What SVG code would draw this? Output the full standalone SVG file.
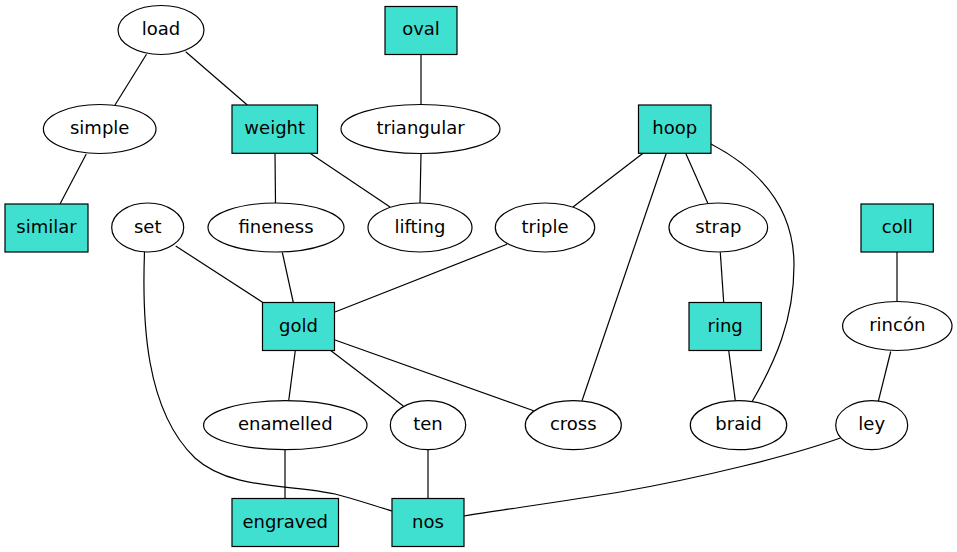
<svg xmlns="http://www.w3.org/2000/svg" width="957" height="552" viewBox="0 0 957 552">
<style>
.n ellipse{fill:#fff;stroke:#000;stroke-width:1.2}
.n rect{fill:#40e0d0;stroke:#000;stroke-width:1.2}
.n text{font-family:"DejaVu Sans",sans-serif;font-size:18px;text-anchor:middle;fill:#000}
#edges path{fill:none;stroke:#000;stroke-width:1.2}
</style>
<rect width="957" height="552" fill="#fff"/>
<g id="edges">
<path d="M146.5,54.3 L115,105"/>
<path d="M185.7,51.7 L247.3,105"/>
<path d="M421,54.5 L421,104"/>
<path d="M86.3,154 L60,204"/>
<path d="M275,153.5 L275.5,203"/>
<path d="M310,153.3 L390,207"/>
<path d="M421,153.5 L420,203"/>
<path d="M643,153.3 L573,207"/>
<path d="M666.3,153.3 L582,400.7"/>
<path d="M685.7,153.3 L707.7,203"/>
<path d="M711,144 C757,168 794,205 794,265 C794,320 775,362 752.3,401.3"/>
<path d="M507,244.3 L335,312"/>
<path d="M720.3,252.3 L723.7,302.5"/>
<path d="M897,252 L897,301.5"/>
<path d="M175.7,246 L262.5,302.3"/>
<path d="M282.3,252.3 L293.3,302.5"/>
<path d="M144.5,252 C142,320 145,410 195,458 C230,490 290,484 335,494 C355,499 375,506 392,511"/>
<path d="M295.3,350.5 L288.7,400.7"/>
<path d="M330.7,350.5 L403.3,406"/>
<path d="M335,340 L533.7,410.7"/>
<path d="M285,449.7 L285,498.5"/>
<path d="M428,449.7 L428,498.5"/>
<path d="M728.7,350.5 L735.3,400.7"/>
<path d="M890.7,351.5 L878.3,401.3"/>
<path d="M840.3,438 C790,456 700,478 620,492 C560,502 500,510 464,516"/>
</g>
<g id="load" class="n"><ellipse cx="161" cy="30" rx="43" ry="24.5"/><text x="161" y="35">load</text></g>
<g id="oval" class="n"><rect x="385" y="6.5" width="72" height="48"/><text x="421" y="35">oval</text></g>
<g id="simple" class="n"><ellipse cx="99.7" cy="129" rx="56.3" ry="24.5"/><text x="99.7" y="134">simple</text></g>
<g id="weight" class="n"><rect x="232" y="105" width="85.5" height="48.3"/><text x="274.7" y="134">weight</text></g>
<g id="triangular" class="n"><ellipse cx="420.5" cy="129" rx="79.5" ry="24.5"/><text x="420.5" y="134">triangular</text></g>
<g id="hoop" class="n"><rect x="638.5" y="105" width="72.5" height="48.3"/><text x="674.7" y="134">hoop</text></g>
<g id="similar" class="n"><rect x="5" y="204" width="83" height="48"/><text x="46.5" y="233">similar</text></g>
<g id="set" class="n"><ellipse cx="147.7" cy="227.5" rx="36" ry="24.5"/><text x="147.7" y="232.5">set</text></g>
<g id="fineness" class="n"><ellipse cx="276" cy="227.5" rx="68" ry="24.5"/><text x="276" y="232.5">fineness</text></g>
<g id="lifting" class="n"><ellipse cx="420" cy="227.5" rx="52" ry="24.5"/><text x="420" y="232.5">lifting</text></g>
<g id="triple" class="n"><ellipse cx="545" cy="227.5" rx="49.7" ry="24.5"/><text x="545" y="232.5">triple</text></g>
<g id="strap" class="n"><ellipse cx="718.3" cy="227.5" rx="49.3" ry="24.5"/><text x="718.3" y="232.5">strap</text></g>
<g id="coll" class="n"><rect x="861" y="204" width="72.3" height="48"/><text x="897.2" y="233">coll</text></g>
<g id="gold" class="n"><rect x="262.5" y="302.5" width="72" height="48"/><text x="298.5" y="331.5">gold</text></g>
<g id="ring" class="n"><rect x="689" y="302.5" width="72.3" height="48"/><text x="725.2" y="331.5">ring</text></g>
<g id="rincon" class="n"><ellipse cx="897.3" cy="326" rx="54.7" ry="24.5"/><text x="897.3" y="331">rincón</text></g>
<g id="enamelled" class="n"><ellipse cx="285.3" cy="425.2" rx="81.7" ry="24.5"/><text x="285.3" y="430.2">enamelled</text></g>
<g id="ten" class="n"><ellipse cx="428" cy="425.2" rx="37.7" ry="24.5"/><text x="428" y="430.2">ten</text></g>
<g id="cross" class="n"><ellipse cx="573.3" cy="425.2" rx="48" ry="24.5"/><text x="573.3" y="430.2">cross</text></g>
<g id="braid" class="n"><ellipse cx="738.5" cy="425.2" rx="48.2" ry="24.5"/><text x="738.5" y="430.2">braid</text></g>
<g id="ley" class="n"><ellipse cx="871.7" cy="425.2" rx="36" ry="24.5"/><text x="871.7" y="430.2">ley</text></g>
<g id="engraved" class="n"><rect x="232" y="498.5" width="106.5" height="48"/><text x="285.2" y="527.5">engraved</text></g>
<g id="nos" class="n"><rect x="392" y="498.5" width="72" height="48"/><text x="428" y="527.5">nos</text></g>
</svg>
